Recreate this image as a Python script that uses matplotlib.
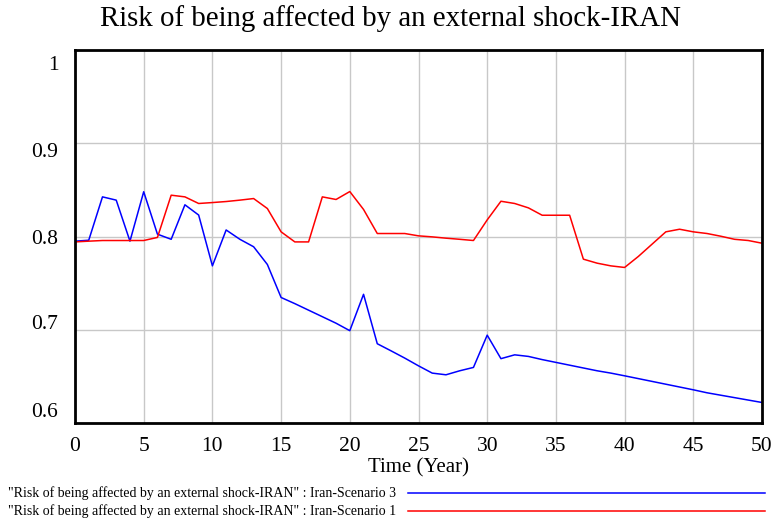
import matplotlib
matplotlib.use("Agg")
import matplotlib.pyplot as plt
from matplotlib.transforms import ScaledTranslation

plt.rcParams['font.family'] = ['Liberation Serif', 'DejaVu Serif']

years = list(range(0, 51))

# Iran-Scenario 3 (blue)
scenario3 = [
    0.795, 0.796, 0.8425, 0.839, 0.795, 0.848, 0.8025, 0.797, 0.834, 0.823,
    0.7685, 0.807, 0.797, 0.789, 0.770, 0.7346, 0.728, 0.721, 0.714, 0.707,
    0.699, 0.738, 0.685, 0.6774, 0.6696, 0.6613, 0.6535, 0.6517, 0.656, 0.6596,
    0.6942, 0.669, 0.6731, 0.6714, 0.668, 0.665, 0.662, 0.659, 0.656, 0.6535,
    0.6506, 0.6476, 0.6446, 0.6416, 0.6386, 0.6356, 0.6324, 0.6298, 0.6272, 0.6246,
    0.622,
]

# Iran-Scenario 1 (red)
scenario1 = [
    0.7942, 0.795, 0.7957, 0.7957, 0.7957, 0.7957, 0.799, 0.8443, 0.8425, 0.8354,
    0.8364, 0.8375, 0.839, 0.8407, 0.830, 0.805, 0.7942, 0.7942, 0.8425, 0.8397,
    0.8482, 0.829, 0.8032, 0.8032, 0.8032, 0.8007, 0.7996, 0.7982, 0.797, 0.7957,
    0.8178, 0.8378, 0.8354, 0.8307, 0.8228, 0.8228, 0.8228, 0.7757, 0.7714, 0.7685,
    0.7668, 0.7786, 0.7918, 0.805, 0.8078, 0.805, 0.8032, 0.8003, 0.797, 0.7957,
    0.7928,
]

x_ticks = list(range(0, 51, 5))
y_ticks = [0.6, 0.7, 0.8, 0.9, 1.0]
y_tick_labels = ["0.6", "0.7", "0.8", "0.9", "1"]
title = "Risk of being affected by an external shock-IRAN"
legend_labels = [
    '"Risk of being affected by an external shock-IRAN" : Iran-Scenario 3',
    '"Risk of being affected by an external shock-IRAN" : Iran-Scenario 1',
]

W, H = 774, 521
fig = plt.figure(figsize=(W / 100, H / 100), dpi=100)
ax = fig.add_axes([75 / W, 1 - 423 / H, (762 - 75) / W, (423 - 50) / H])

line3, = ax.plot(years, scenario3, color="#0000ff", lw=1.1)
line1, = ax.plot(years, scenario1, color="#ff0000", lw=1.1)

ax.set_xlim(0, 50)
ax.set_ylim(0.6, 1.0)
ax.set_xticks(x_ticks)
ax.set_yticks(y_ticks)
ax.set_yticklabels(y_tick_labels)
ax.grid(True, color="#c8c8c8", lw=1.0)
ax.set_axisbelow(True)
ax.tick_params(length=0, labelsize=15.5)
ax.tick_params(axis="x", pad=10)
ax.tick_params(axis="y", pad=12)
for s in ax.spines.values():
    s.set_linewidth(2)
    s.set_color("black")

# vensim nudges the end labels inward
offsets = {"1": -13, "0.9": -7, "0.8": 0, "0.7": 8, "0.6": 13}
for lab in ax.get_yticklabels():
    dy = offsets.get(lab.get_text(), 0)
    lab.set_transform(lab.get_transform() + ScaledTranslation(0, dy / 100, fig.dpi_scale_trans))

fig.text(390 / W, 1 - 19 / H, title, ha="center", va="center", fontsize=20.8)
fig.text(418 / W, 1 - 468 / H, "Time (Year)", ha="center", va="center", fontsize=15)

# legend rows under the axis
for i, (lab, ln) in enumerate(zip(legend_labels, [line3, line1])):
    y = 1 - (493 + 18 * i) / H
    fig.text(8 / W, y, lab, ha="left", va="center", fontsize=10)
    fig.add_artist(plt.Line2D([408 / W, 765 / W], [y, y], color=ln.get_color(), lw=1.1,
                              transform=fig.transFigure))

fig.savefig("out.png", dpi=100)
